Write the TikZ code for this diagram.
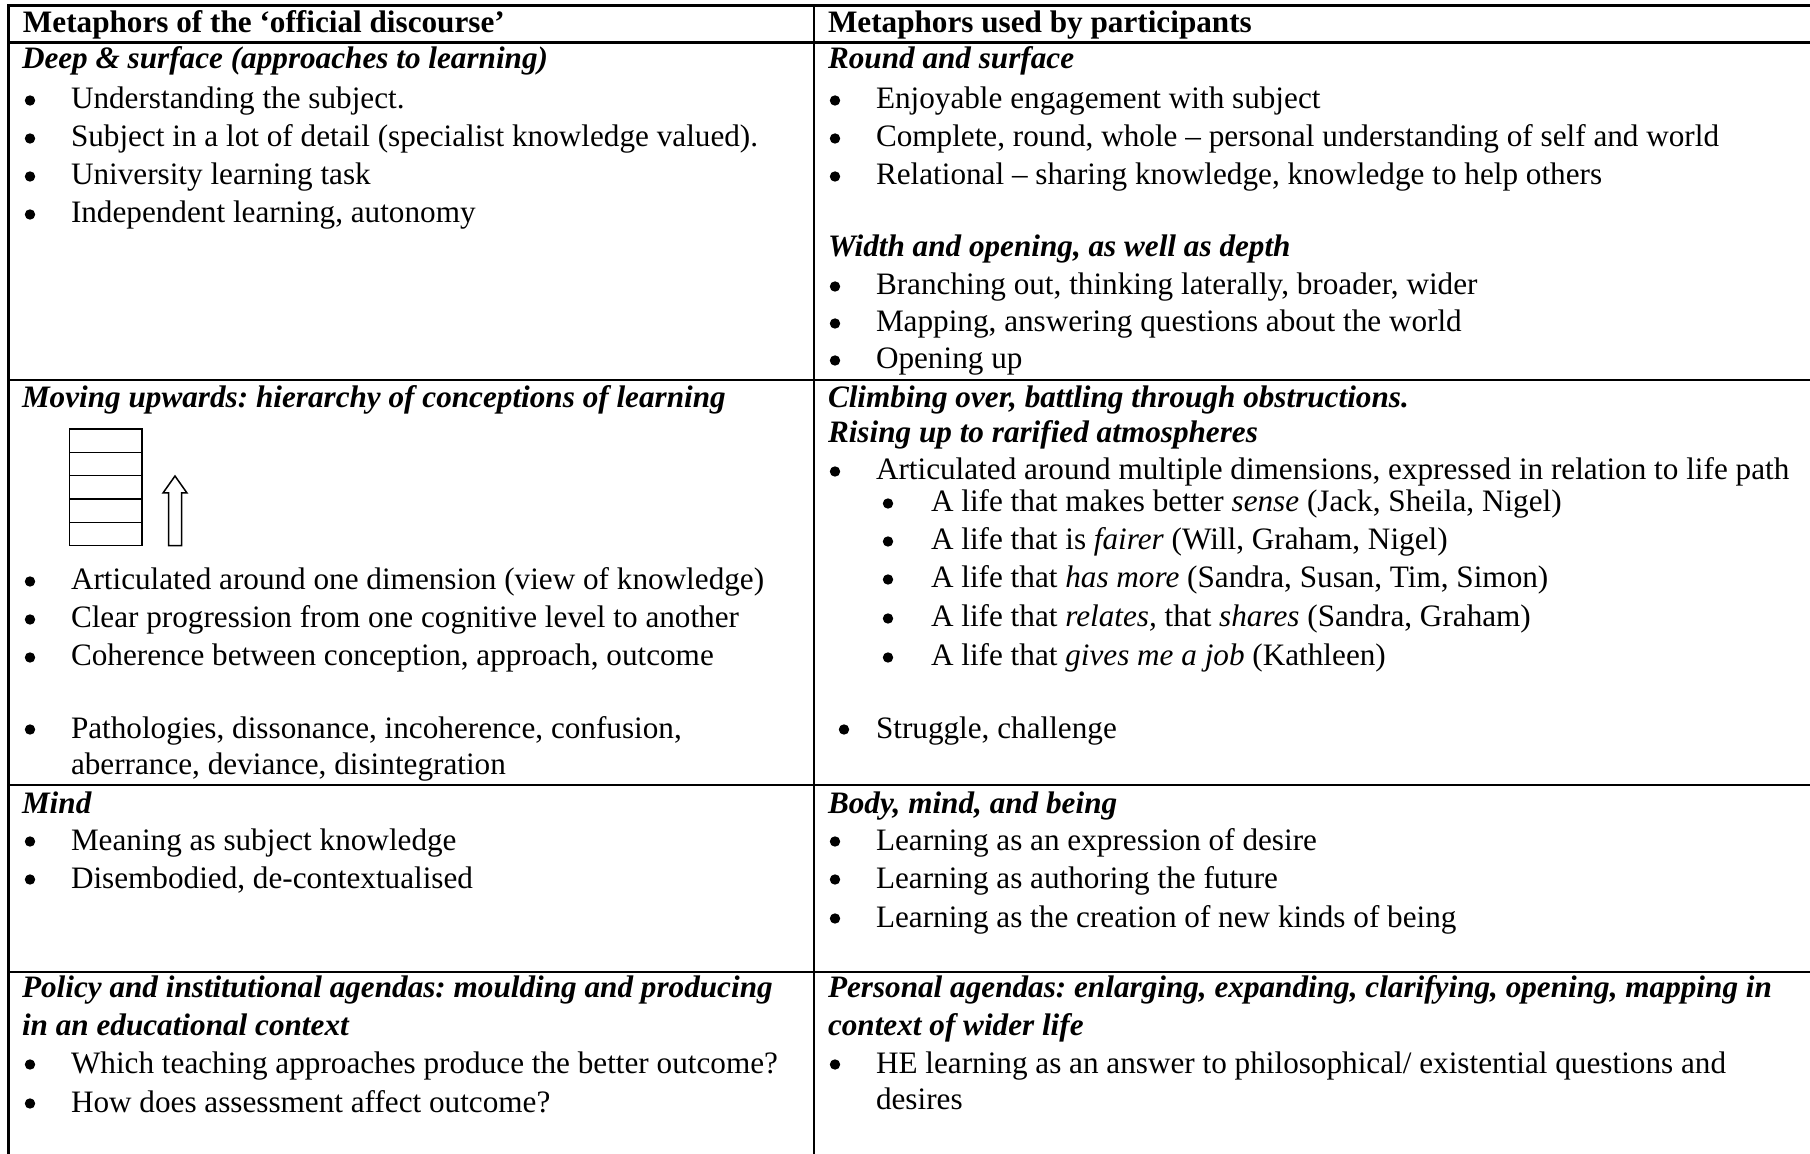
\documentclass[tikz,border=0pt]{standalone}
\usepackage{fontspec}
\setmainfont{Liberation Serif}
\frenchspacing
\newcommand\myitem[5]{\node[bul] (#1b) at (#2,#4-8.5) {}; \node[txt] (#1) at (#3,#4) {#5};}
\begin{document}
\frenchspacing
\begin{tikzpicture}[x=0.5pt,y=-0.5pt,
  every node/.style={inner sep=0pt, outer sep=0pt},
  txt/.style={anchor=base west, font=\fontsize{15.6}{19}\selectfont},
  hd/.style={anchor=base west, font=\fontsize{15.6}{19}\selectfont\bfseries},
  ttl/.style={anchor=base west, font=\fontsize{15.6}{19}\selectfont\bfseries\itshape},
  bul/.style={circle, fill=black, minimum size=5.2pt},
  rule/.style={line width=1.2pt},
  thinline/.style={line width=0.75pt}]
\useasboundingbox (0,0) rectangle (1810,1154);
\fill[white] (0,0) rectangle (1810,1154);
% table rules
\draw[rule] (8.3,1160) -- (8.3,5.7) -- (1815,5.7);
\draw[rule] (814,5.7) -- (814,1160);
\foreach \yy in {42.7,380,785,971.7}{\draw[rule] (8.3,\yy) -- (1815,\yy);}
% header
\node[hd] (h1) at (23,33) {Metaphors of the ‘official discourse’};
\node[hd] (h2) at (828,33) {Metaphors used by participants};
% row 1 left
\node[ttl] (t1) at (22,69) {Deep \& surface (approaches to learning)};
\myitem{a1}{30}{71}{109}{Understanding the subject.}
\myitem{a2}{30}{71}{147}{Subject in a lot of detail (specialist knowledge valued).}
\myitem{a3}{30}{71}{185}{University learning task}
\myitem{a4}{30}{71}{223}{Independent learning, autonomy}
% row 1 right
\node[ttl] (t2) at (828,69) {Round and surface};
\myitem{b1}{835}{876}{109}{Enjoyable engagement with subject}
\myitem{b2}{835}{876}{147}{Complete, round, whole -- personal understanding of self and world}
\myitem{b3}{835}{876}{185}{Relational -- sharing knowledge, knowledge to help others}
\node[ttl] (t3) at (828,257) {Width and opening, as well as depth};
\myitem{b4}{835}{876}{295}{Branching out, thinking laterally, broader, wider}
\myitem{b5}{835}{876}{332}{Mapping, answering questions about the world}
\myitem{b6}{835}{876}{369}{Opening up}
% row 2 left
\node[ttl] (t4) at (22,408) {Moving upwards: hierarchy of conceptions of learning};
\draw[thinline] (69.6,429) rectangle (142,545.7);
\foreach \yy in {452.3,475.7,499,522.3}{\draw[thinline] (69.6,\yy) -- (142,\yy);}
\draw[thinline, line join=miter] (168.5,545.7) -- (168.5,493) -- (163,493) -- (175,476) -- (187,493) -- (181.5,493) -- (181.5,545.7) -- cycle;
\myitem{c1}{30}{71}{590}{Articulated around one dimension (view of knowledge)}
\myitem{c2}{30}{71}{628}{Clear progression from one cognitive level to another}
\myitem{c3}{30}{71}{666}{Coherence between conception, approach, outcome}
\myitem{c4}{30}{71}{738}{Pathologies, dissonance, incoherence, confusion,}
\node[txt] (c4x) at (71,774) {aberrance, deviance, disintegration};
% row 2 right
\node[ttl] (t5) at (828,408) {Climbing over, battling through obstructions.};
\node[ttl] (t6) at (828,443) {Rising up to rarified atmospheres};
\myitem{d1}{835}{876}{480}{Articulated around multiple dimensions, expressed in relation to life path}
\myitem{d2}{888}{931}{512}{A life that makes better \textit{sense} (Jack, Sheila, Nigel)}
\myitem{d3}{888}{931}{550}{A life that is \textit{fairer} (Will, Graham, Nigel)}
\myitem{d4}{888}{931}{588}{A life that \textit{has more} (Sandra, Susan, Tim, Simon)}
\myitem{d5}{888}{931}{627}{A life that \textit{relates,} that \textit{shares} (Sandra, Graham)}
\myitem{d6}{888}{931}{666}{A life that \textit{gives me a job} (Kathleen)}
\myitem{d7}{844}{876}{738}{Struggle, challenge}
% row 3
\node[ttl] (t7) at (22,813) {Mind};
\myitem{e1}{30}{71}{850}{Meaning as subject knowledge}
\myitem{e2}{30}{71}{888}{Disembodied, de-contextualised}
\node[ttl] (t8) at (828,813) {Body, mind, and being};
\myitem{f1}{835}{876}{850}{Learning as an expression of desire}
\myitem{f2}{835}{876}{888}{Learning as authoring the future}
\myitem{f3}{835}{876}{927}{Learning as the creation of new kinds of being}
% row 4
\node[ttl] (t9) at (22,997) {Policy and institutional agendas: moulding and producing};
\node[ttl] (t10) at (22,1035) {in an educational context};
\myitem{g1}{30}{71}{1073}{Which teaching approaches produce the better outcome?}
\myitem{g2}{30}{71}{1112}{How does assessment affect outcome?}
\node[ttl] (t11) at (828,997) {Personal agendas: enlarging, expanding, clarifying, opening, mapping in};
\node[ttl] (t12) at (828,1035) {context of wider life};
\myitem{h3}{835}{876}{1073}{HE learning as an answer to philosophical/ existential questions and}
\node[txt] (h3x) at (876,1109) {desires};
\end{tikzpicture}
\end{document}
